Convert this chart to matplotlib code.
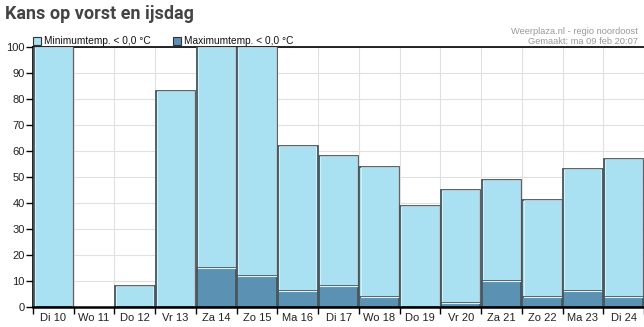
import matplotlib
matplotlib.use("Agg")
import matplotlib.pyplot as plt
from matplotlib.patches import Rectangle

days = ["Di 10", "Wo 11", "Do 12", "Vr 13", "Za 14", "Zo 15", "Ma 16", "Di 17",
        "Wo 18", "Do 19", "Vr 20", "Za 21", "Zo 22", "Ma 23", "Di 24"]
min_temp = [100, 0, 8, 83, 100, 100, 62, 58, 54, 39, 45, 49, 41, 53, 57]
max_temp = [0, 0, 0, 0, 15, 12, 6, 8, 4, 0, 1.5, 10, 4, 6, 4]

light = "#aae1f2"
dark = "#5b92b3"
edge = "#47575e"

plt.rcParams['font.family'] = ['Liberation Sans', 'DejaVu Sans']
fig = plt.figure(figsize=(6.44, 3.27), dpi=100)
ax = fig.add_axes([33/644, 20/327, 611/644, 260/327])

x = list(range(len(days)))
w = 0.97
for xi, v in zip(x, min_temp):
    if v > 0:
        ax.bar(xi, v, width=w, color=light, edgecolor=edge, linewidth=1.3, zorder=3)
        ax.bar(xi, v, width=w - 0.06, color='none', edgecolor='#e8f6fb', linewidth=0.5, zorder=3.1)
for xi, v in zip(x, max_temp):
    if v > 0:
        ax.bar(xi, v, width=w, color=dark, edgecolor=edge, linewidth=1.3, zorder=4)
        ax.plot([xi - w/2 + 0.03, xi + w/2 - 0.03], [v, v], color='#e0f0f6', lw=0.8, zorder=4.1)

ax.set_xlim(-0.5, len(days) - 0.5)
ax.set_ylim(0, 100)
ax.set_yticks(range(0, 101, 10))
ax.set_xticks(x)
ax.set_xticklabels(days)
ax.set_xticks([i - 0.5 for i in range(len(days) + 1)], minor=True)
ax.tick_params(axis='x', which='major', length=0, labelsize=8, colors='#222222', pad=4)
ax.tick_params(axis='x', which='minor', length=5, width=1, color='black', direction='out')
ax.tick_params(axis='y', length=5, width=1, labelsize=8, colors='#222222', direction='out', pad=1)
ax.tick_params(axis='y', colors='black', labelcolor='#222222')
ax.grid(True, axis='y', color='#e0e0e0', lw=0.8, zorder=0)
ax.grid(True, axis='x', which='minor', color='#e0e0e0', lw=0.8, zorder=0)
for s in ['top', 'left']:
    ax.spines[s].set_color('black')
    ax.spines[s].set_linewidth(1.2)
ax.spines['bottom'].set_color('black')
ax.spines['bottom'].set_linewidth(1.8)
ax.spines['bottom'].set_zorder(5)
ax.spines['right'].set_visible(False)

fig.text(5/644, 1 - 14/327, "Kans op vorst en ijsdag", fontsize=13, fontweight='bold',
         color='#444444', family=['Roboto', 'DejaVu Sans'], va='center', ha='left')

# legend
for lx, txt, c in [(33, "Minimumtemp. < 0,0 °C", light), (173, "Maximumtemp. < 0,0 °C", dark)]:
    fig.patches.append(Rectangle((lx/644, 1 - 45/327), 8/644, 8/327, transform=fig.transFigure,
                                 facecolor=c, edgecolor='#333333', lw=0.8))
    fig.text((lx + 11)/644, 1 - 41/327, txt, fontsize=7.3, color='#111111', va='center', ha='left')

fig.text(638/644, 1 - 31/327, "Weerplaza.nl - regio noordoost", fontsize=6.7, color='#999999',
         va='center', ha='right')
fig.text(638/644, 1 - 41/327, "Gemaakt: ma 09 feb 20:07", fontsize=6.7, color='#999999',
         va='center', ha='right')

fig.savefig("out.png", dpi=100)
